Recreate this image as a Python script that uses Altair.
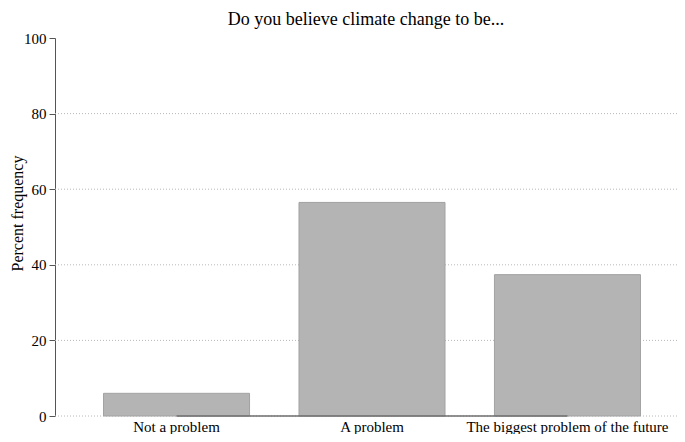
import altair as alt
import pandas as pd

categories = ["Not a problem", "A problem", "The biggest problem of the future"]
percents = [6.0, 56.5, 37.4]
y_ticks = [0, 20, 40, 60, 80, 100]

df = pd.DataFrame({"cat": categories, "pct": percents})
FONT = "Liberation Serif"

x_scale = alt.Scale(domain=categories, paddingInner=0.253, paddingOuter=0.238,
                    range=[2, 632])
y_scale = alt.Scale(domain=[0, 100], nice=False)

y_axis = alt.Axis(title="Percent frequency", values=y_ticks, grid=False,
                  domainColor="#555", tickColor="#555", tickSize=6,
                  labelFont=FONT, labelFontSize=15, labelColor="#000",
                  labelPadding=3, titleFont=FONT, titleFontSize=16,
                  titleFontWeight="normal", titleColor="#000",
                  titlePadding=-2, titleY=175)

grid = alt.Chart(pd.DataFrame({"pct": y_ticks[:-1]})).mark_rule(
    color="#b8b8b8", strokeDash=[1, 2], strokeWidth=1
).encode(
    x=alt.value(0), x2=alt.value(640),
    y=alt.Y("pct:Q", scale=y_scale, axis=y_axis),
)

bars = alt.Chart(df).mark_bar(
    color="#b4b4b4", stroke="#a2a2a2", strokeWidth=1
).encode(
    x=alt.X("cat:N", sort=categories, scale=x_scale,
            axis=alt.Axis(title=None, domain=False, ticks=False, labelAngle=0,
                          labelFont=FONT, labelFontSize=15, labelColor="#000",
                          labelPadding=3, labelLimit=0)),
    y=alt.Y("pct:Q", scale=y_scale, axis=y_axis),
)

xline = alt.Chart(pd.DataFrame({"a": [categories[0]], "b": [categories[-1]], "z": [0]})).mark_rule(
    color="#6e6e6e", strokeWidth=1.5
).encode(
    x=alt.X("a:N", sort=categories, scale=x_scale),
    x2="b:N",
    y=alt.Y("z:Q", scale=y_scale),
)

chart = alt.layer(grid, bars, xline).properties(
    width=622, height=378,
    title=alt.TitleParams("Do you believe climate change to be...", font=FONT,
                          fontSize=18, fontWeight="normal", color="#000", offset=2),
    autosize=alt.AutoSizeParams(type="none"),
    padding={"left": 47, "top": 30, "right": 0, "bottom": 18},
).configure_view(stroke=None)

chart.save("out.html", embed_options={"renderer": "svg", "actions": False})
